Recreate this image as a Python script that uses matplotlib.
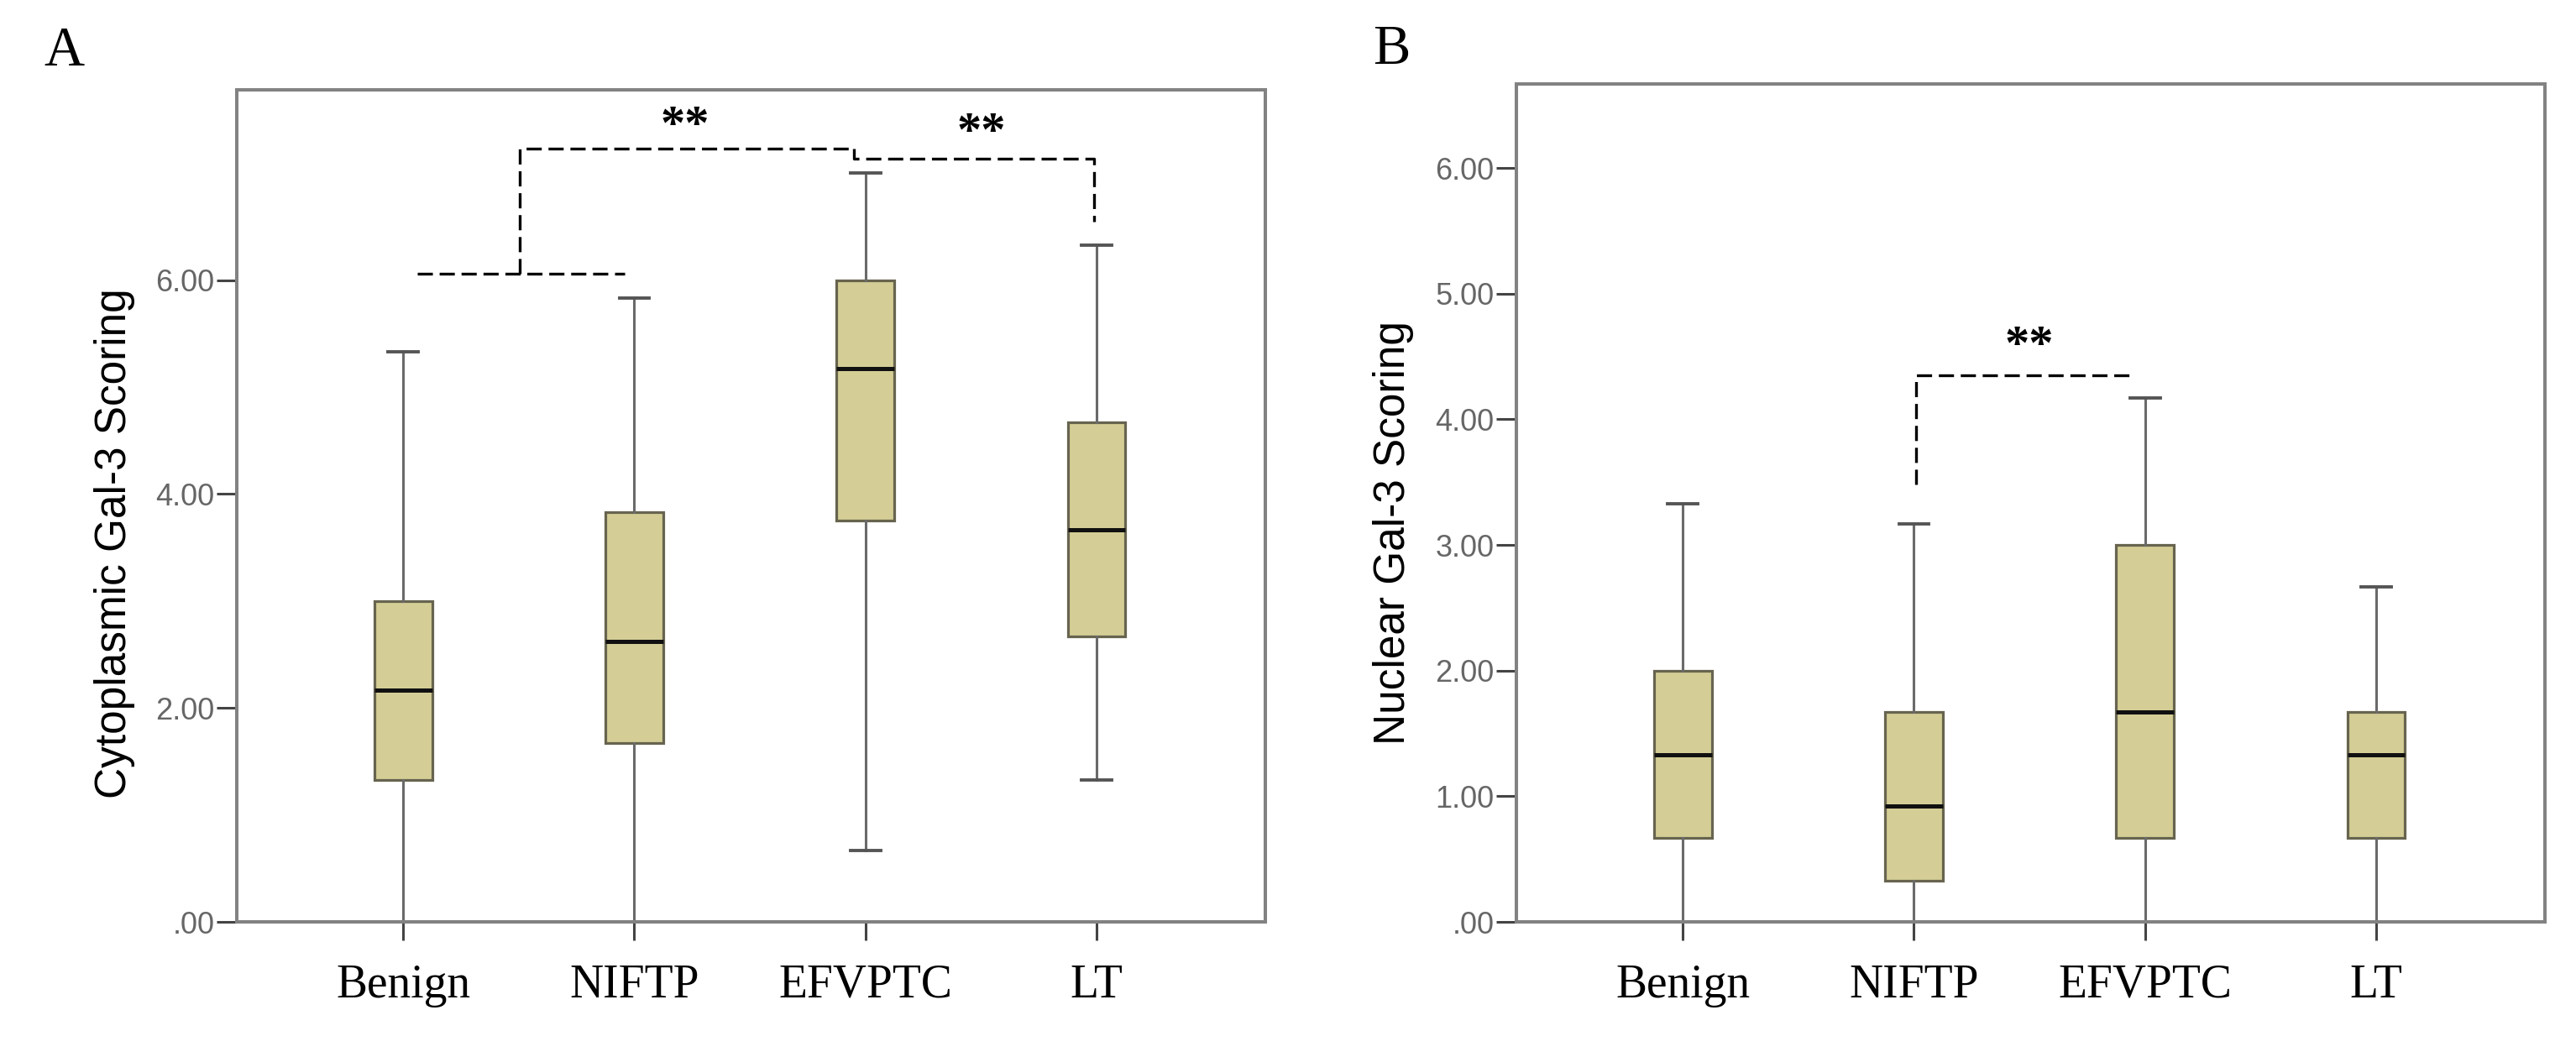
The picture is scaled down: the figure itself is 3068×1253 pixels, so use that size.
import matplotlib
matplotlib.use("Agg")
import matplotlib.pyplot as plt

# ---------------- data ----------------
categories = ["Benign", "NIFTP", "EFVPTC", "LT"]

# Panel A: Cytoplasmic Gal-3 scoring
a_whislo = [0.00, 0.00, 0.67, 1.33]
a_q1     = [1.33, 1.67, 3.75, 2.67]
a_med    = [2.17, 2.62, 5.17, 3.67]
a_q3     = [3.00, 3.83, 6.00, 4.67]
a_whishi = [5.33, 5.83, 7.00, 6.33]
a_yticks = [0, 2, 4, 6]
a_yticklabels = [".00", "2.00", "4.00", "6.00"]
a_ylabel = "Cytoplasmic Gal-3 Scoring"

# Panel B: Nuclear Gal-3 scoring
b_whislo = [0.00, 0.00, 0.00, 0.00]
b_q1     = [0.67, 0.33, 0.67, 0.67]
b_med    = [1.33, 0.92, 1.67, 1.33]
b_q3     = [2.00, 1.67, 3.00, 1.67]
b_whishi = [3.33, 3.17, 4.17, 2.67]
b_yticks = [0, 1, 2, 3, 4, 5, 6]
b_yticklabels = [".00", "1.00", "2.00", "3.00", "4.00", "5.00", "6.00"]
b_ylabel = "Nuclear Gal-3 Scoring"

# significance brackets (data coords) and labels
a_bracket_paths = [
    ([0.06, 0.958], [6.06, 6.06]),
    ([0.506, 0.506, 1.95], [6.06, 7.23, 7.23]),
    ([1.95, 1.95, 2.99, 2.99], [7.23, 7.14, 7.14, 6.55]),
]
a_stars = [(1.22, 7.54, "**"), (2.50, 7.48, "**")]
b_bracket_paths = [
    ([1.01, 1.01, 1.94], [3.48, 4.35, 4.35]),
]
b_stars = [(1.50, 4.67, "**")]

# ---------------- style ----------------
W, H = 3068, 1253
BOX_FACE = "#D4CE96"
BOX_EDGE = "#67644F"
WHISK = "#6a6a6a"
SPINE = "#828282"
TICKLBL = "#666666"

plt.rcParams["lines.scale_dashes"] = False

fig = plt.figure(figsize=(W / 100, H / 100), dpi=100)
fig.patch.set_facecolor("white")

axA = fig.add_axes([282 / W, 1 - 1098 / H, (1507 - 282) / W, (1098 - 107) / H])
axB = fig.add_axes([1806 / W, 1 - 1098 / H, (3031 - 1806) / W, (1098 - 100) / H])


def draw_panel(ax, lo, q1, med, q3, hi, ytop, yticks, yticklabels, brackets, stars):
    stats = [dict(whislo=l, q1=a, med=m, q3=b, whishi=h, label=c)
             for l, a, m, b, h, c in zip(lo, q1, med, q3, hi, categories)]
    ax.bxp(stats, positions=range(len(categories)), widths=0.25, capwidths=0.13,
           showfliers=False, patch_artist=True,
           boxprops=dict(facecolor=BOX_FACE, edgecolor=BOX_EDGE, linewidth=2.3),
           medianprops=dict(color="#111111", linewidth=3.6, solid_capstyle="butt"),
           whiskerprops=dict(color=WHISK, linewidth=2.2),
           capprops=dict(color="#555555", linewidth=2.8))
    ax.set_xlim(-0.72, 3.73)
    ax.set_ylim(0, ytop)
    ax.set_yticks(yticks)
    ax.set_yticklabels(yticklabels, fontfamily="Liberation Sans", fontsize=26,
                       color=TICKLBL)
    ax.set_xticks(range(len(categories)))
    ax.set_xticklabels(categories, fontfamily="Liberation Serif", fontsize=40,
                       color="black")
    ax.tick_params(axis="y", direction="out", length=17, width=2.2,
                   color="#444444", pad=2)
    ax.tick_params(axis="x", direction="out", length=16, width=2.2,
                   color="#444444", pad=20)
    for s in ax.spines.values():
        s.set_color(SPINE)
        s.set_linewidth(2.9)
    for xs, ys in brackets:
        ax.plot(xs, ys, color="black", linewidth=2.4, linestyle=(0, (13, 5.8)),
                solid_capstyle="butt", dash_capstyle="butt", clip_on=False)
    for x, y, t in stars:
        ax.annotate(t, xy=(x, y), xytext=(0, -0.47 * 42), textcoords="offset points",
                    ha="center", va="baseline", fontfamily="Liberation Serif",
                    fontweight="bold", fontsize=42, color="black")


draw_panel(axA, a_whislo, a_q1, a_med, a_q3, a_whishi, 7.78,
           a_yticks, a_yticklabels, a_bracket_paths, a_stars)
draw_panel(axB, b_whislo, b_q1, b_med, b_q3, b_whishi, 6.67,
           b_yticks, b_yticklabels, b_bracket_paths, b_stars)

# axis titles
fig.text(137 / W, 1 - 647 / H, a_ylabel, rotation=90, ha="center", va="center",
         fontfamily="Liberation Sans", fontsize=37, color="black")
fig.text(1660 / W, 1 - 635 / H, b_ylabel, rotation=90, ha="center", va="center",
         fontfamily="Liberation Sans", fontsize=37, color="black")

# panel letters
fig.text(76 / W, 1 - 62 / H, "A", ha="center", va="center",
         fontfamily="Liberation Serif", fontsize=48, color="black")
fig.text(1657 / W, 1 - 60 / H, "B", ha="center", va="center",
         fontfamily="Liberation Serif", fontsize=48, color="black")

fig.savefig("out.png", dpi=100, facecolor="white")
